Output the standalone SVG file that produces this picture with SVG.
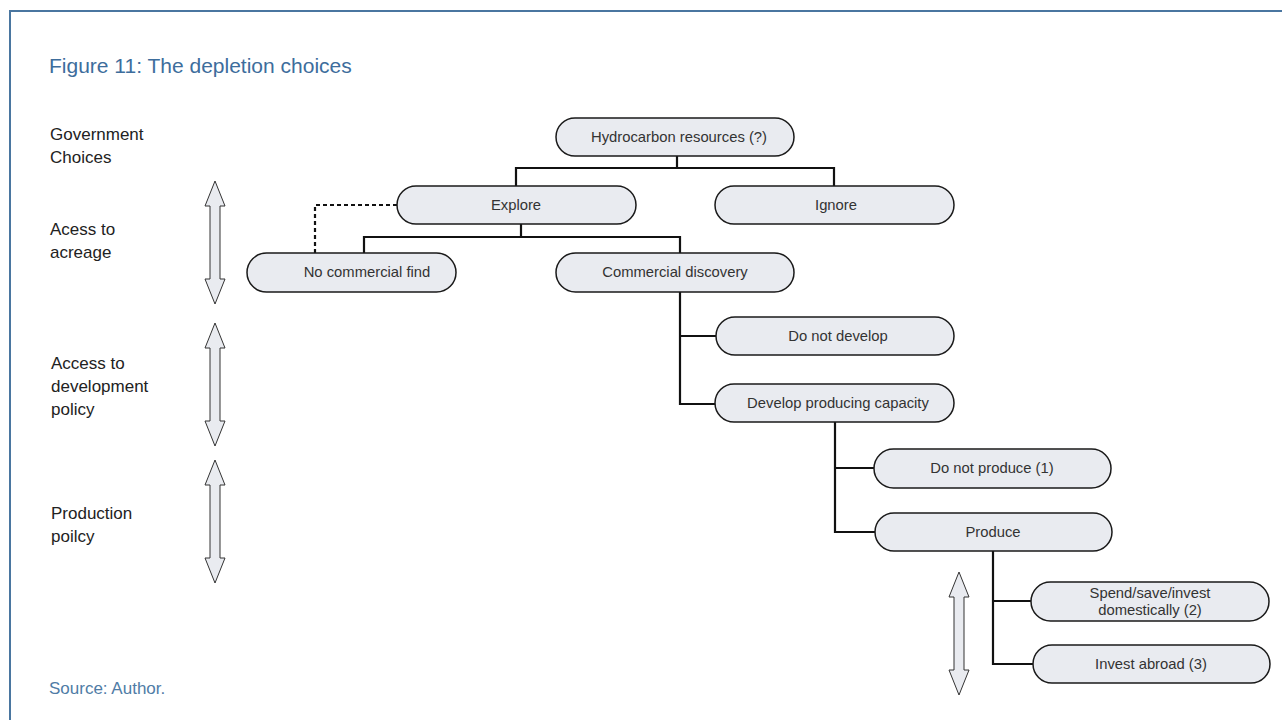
<svg xmlns="http://www.w3.org/2000/svg" width="1282" height="720" viewBox="0 0 1282 720">
<defs>
<style>
.frame{fill:none;stroke:#4a76a0;stroke-width:2}
.node rect{fill:#e9ebf0;stroke:#1a1a1a;stroke-width:1.5}
.node text{font-family:"Liberation Sans",Arial,sans-serif;font-size:14.8px;fill:#333;text-anchor:middle}
.lbl{font-family:"Liberation Sans",Arial,sans-serif;font-size:17px;fill:#222}
.title{font-family:"Liberation Sans",Arial,sans-serif;font-size:21px;fill:#3d6d9c}
.src{font-family:"Liberation Sans",Arial,sans-serif;font-size:17px;fill:#4f7ca6}
.conn{fill:none;stroke:#111;stroke-width:2.2}
.dash{fill:none;stroke:#111;stroke-width:2.2;stroke-dasharray:4,3}
.darrow{fill:#e9ebf0;stroke:#333;stroke-width:1}
</style>
<path id="da" d="M0,0 L10,25 L5,25 L5,98 L10,98 L0,123 L-10,98 L-5,98 L-5,25 L-10,25 Z"/>
</defs>
<rect width="1282" height="720" fill="#fff"/>
<path class="frame" d="M1282,11 L10,11 L10,720"/>
<text class="title" x="49" y="73">Figure 11: The depletion choices</text>
<text class="lbl" x="50" y="140">Government</text>
<text class="lbl" x="50" y="163">Choices</text>
<text class="lbl" x="50" y="235">Acess to</text>
<text class="lbl" x="50" y="258">acreage</text>
<text class="lbl" x="51" y="369">Access to</text>
<text class="lbl" x="51" y="392">development</text>
<text class="lbl" x="51" y="415">policy</text>
<text class="lbl" x="51" y="519">Production</text>
<text class="lbl" x="51" y="542">poilcy</text>
<text class="src" x="49" y="694">Source: Author.</text>
<g id="arrows">
<use href="#da" class="darrow" x="215" y="181"/>
<use href="#da" class="darrow" x="215" y="323"/>
<use href="#da" class="darrow" x="215" y="460"/>
<use href="#da" class="darrow" x="959" y="572"/>
</g>
<g id="connectors">
<path class="conn" d="M677,156 V168 M516,186 V168 H834 V186"/>
<path class="conn" d="M521,224 V237 M364,253 V237 H680 V253"/>
<path class="dash" d="M397,205 H315 V253"/>
<path class="conn" d="M680,292 V404 H716 M680,336 H716"/>
<path class="conn" d="M835,422 V532 H875 M835,468 H874"/>
<path class="conn" d="M993,551 V664 H1033 M993,601 H1031"/>
</g>
<g id="n1" class="node"><rect x="556" y="118" width="238" height="38" rx="19"/><text x="679" y="142">Hydrocarbon resources (?)</text></g>
<g id="n2" class="node"><rect x="397" y="186" width="239" height="38" rx="19"/><text x="516" y="210">Explore</text></g>
<g id="n3" class="node"><rect x="715" y="186" width="239" height="38" rx="19"/><text x="836" y="210">Ignore</text></g>
<g id="n4" class="node"><rect x="247" y="253" width="209" height="39" rx="19.5"/><text x="367" y="277">No commercial find</text></g>
<g id="n5" class="node"><rect x="556" y="253" width="238" height="39" rx="19.5"/><text x="675" y="277">Commercial discovery</text></g>
<g id="n6" class="node"><rect x="716" y="317" width="238" height="38" rx="19"/><text x="838" y="341">Do not develop</text></g>
<g id="n7" class="node"><rect x="715" y="384" width="239" height="38" rx="19"/><text x="838" y="408">Develop producing capacity</text></g>
<g id="n8" class="node"><rect x="874" y="449" width="237" height="39" rx="19.5"/><text x="992" y="473">Do not produce (1)</text></g>
<g id="n9" class="node"><rect x="875" y="513" width="237" height="38" rx="19"/><text x="993" y="537">Produce</text></g>
<g id="n10" class="node"><rect x="1031" y="582" width="238" height="39" rx="19.5"/><text x="1150" y="598">Spend/save/invest</text><text x="1150" y="615">domestically (2)</text></g>
<g id="n11" class="node"><rect x="1033" y="645" width="237" height="38" rx="19"/><text x="1151" y="669">Invest abroad (3)</text></g>
</svg>
